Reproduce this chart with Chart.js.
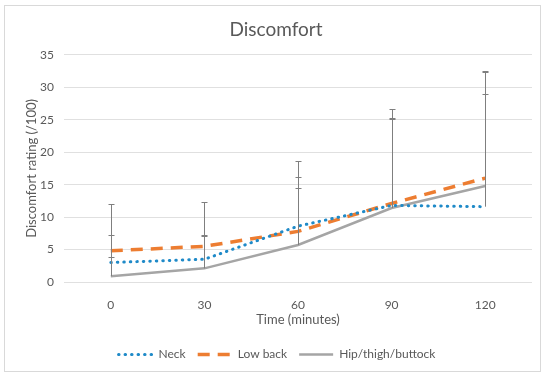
<!DOCTYPE html>
<html>
<head>
<meta charset="utf-8">
<script src="https://cdn.jsdelivr.net/npm/chart.js@4"></script>
<style>
  body { margin: 0; background: #fff; }
  #wrap { width: 550px; height: 378px; position: relative; }
</style>
</head>
<body>
<div id="wrap"><canvas id="chart" width="550" height="378"></canvas></div>
<script>
const times = ['0', '30', '60', '90', '120'];

// mean discomfort ratings
const neck = [3.0, 3.5, 8.6, 11.8, 11.6];
const lowBack = [4.8, 5.5, 7.8, 12.1, 16.0];
const hip = [0.9, 2.1, 5.7, 11.4, 14.8];

// top of each upper error bar
const neckTop = [7.3, 7.2, 18.7, 25.3, 32.3];
const lowBackTop = [12.0, 12.3, 16.2, 26.6, 32.5];
const hipTop = [3.8, 7.1, 14.5, 25.1, 28.9];

const tops = [neckTop, lowBackTop, hipTop];
const txt = '#595959';
const fam = 'Lato, "Open Sans", sans-serif';

const errorBars = {
  id: 'errorBars',
  afterDatasetsDraw(chart) {
    const ctx = chart.ctx;
    const xs = chart.scales.x, ys = chart.scales.y;
    ctx.save();
    ctx.strokeStyle = '#7f7f7f';
    ctx.lineWidth = 1;
    chart.data.datasets.forEach((ds, i) => {
      ds.data.forEach((v, j) => {
        const x = Math.round(xs.getPixelForValue(j)) + 0.5;
        const y0 = ys.getPixelForValue(v);
        const y1 = Math.round(ys.getPixelForValue(tops[i][j])) + 0.5;
        ctx.beginPath();
        ctx.moveTo(x, y0);
        ctx.lineTo(x, y1);
        ctx.moveTo(x - 3, y1);
        ctx.lineTo(x + 3, y1);
        ctx.stroke();
      });
    });
    ctx.restore();
  }
};

// legend markers drawn by hand so the dash patterns show
const legendLines = {
  id: 'legendLines',
  afterDraw(chart) {
    const ctx = chart.ctx;
    const boxes = chart.legend.legendHitBoxes;
    ctx.save();
    chart.data.datasets.forEach((ds, i) => {
      const b = boxes[i];
      if (!b) return;
      const y = Math.round(b.top + b.height / 2) + 0.5;
      ctx.strokeStyle = ds.borderColor;
      ctx.lineWidth = ds.borderWidth;
      ctx.lineCap = ds.borderCapStyle || 'butt';
      ctx.setLineDash(ds.borderDash || []);
      ctx.beginPath();
      ctx.moveTo(b.left + 2, y);
      ctx.lineTo(b.left + 36, y);
      ctx.stroke();
    });
    ctx.restore();
  }
};

const frame = {
  id: 'frame',
  beforeDraw(chart) {
    const ctx = chart.ctx;
    ctx.save();
    ctx.fillStyle = '#fff';
    ctx.fillRect(0, 0, chart.width, chart.height);
    ctx.strokeStyle = '#d9d9d9';
    ctx.lineWidth = 1;
    ctx.strokeRect(4.5, 5.5, 536, 366);
    ctx.restore();
  }
};

new Chart(document.getElementById('chart'), {
  type: 'line',
  data: {
    labels: times,
    datasets: [
      {
        label: 'Neck',
        data: neck,
        borderColor: '#1f8ac8',
        backgroundColor: '#1f8ac8',
        borderWidth: 3,
        borderDash: [0.5, 6],
        borderCapStyle: 'round',
        pointRadius: 0,
        tension: 0
      },
      {
        label: 'Low back',
        data: lowBack,
        borderColor: '#ed7d31',
        backgroundColor: '#ed7d31',
        borderWidth: 3.5,
        borderDash: [12, 8],
        pointRadius: 0,
        tension: 0
      },
      {
        label: 'Hip/thigh/buttock',
        data: hip,
        borderColor: '#a5a5a5',
        backgroundColor: '#a5a5a5',
        borderWidth: 2.5,
        pointRadius: 0,
        tension: 0
      }
    ]
  },
  options: {
    responsive: false,
    animation: false,
    layout: { padding: { left: 20, right: 18, top: 8, bottom: 8 } },
    plugins: {
      title: {
        display: true,
        text: 'Discomfort',
        color: txt,
        font: { family: fam, size: 19, weight: 'normal' },
        padding: { top: 10, bottom: 14 }
      },
      legend: {
        position: 'bottom',
        labels: {
          color: txt,
          font: { family: fam, size: 12 },
          boxWidth: 36,
          boxHeight: 10,
          padding: 10,
          generateLabels(chart) {
            const items = Chart.defaults.plugins.legend.labels.generateLabels(chart);
            items.forEach(it => {
              it.fillStyle = 'rgba(0,0,0,0)';
              it.strokeStyle = 'rgba(0,0,0,0)';
              it.lineWidth = 0;
            });
            return items;
          }
        }
      },
      tooltip: { enabled: false }
    },
    scales: {
      x: {
        offset: true,
        grid: { display: false },
        border: { display: false },
        ticks: { color: txt, font: { family: fam, size: 12 }, padding: 8 },
        title: {
          display: true,
          text: 'Time (minutes)',
          color: txt,
          font: { family: fam, size: 13 },
          padding: { top: 4, bottom: 10 }
        },
        afterFit(s) { s.height = 56; }
      },
      y: {
        min: 0,
        max: 35,
        ticks: { stepSize: 5, color: txt, font: { family: fam, size: 12 }, padding: 10 },
        grid: { color: '#e0e0e0', drawTicks: false },
        border: { display: false },
        title: {
          display: true,
          text: 'Discomfort rating (/100)',
          color: txt,
          font: { family: fam, size: 13 },
          padding: { top: 4, bottom: 4 }
        },
        afterFit(s) { s.width = 44; }
      }
    }
  },
  plugins: [frame, errorBars, legendLines]
});
</script>
</body>
</html>
